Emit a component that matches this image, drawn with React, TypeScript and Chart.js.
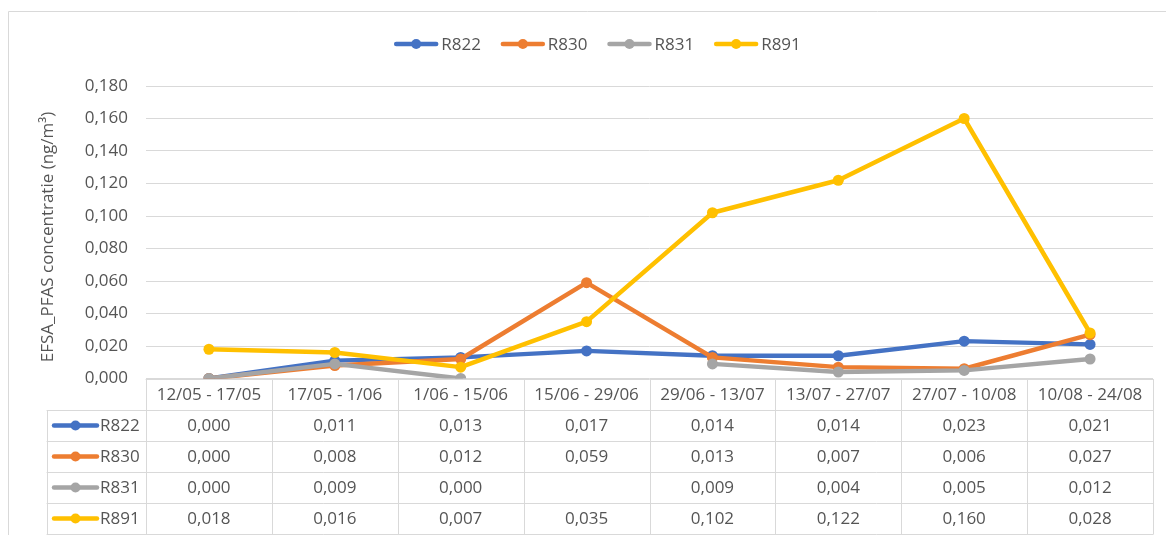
import React, { useEffect, useRef } from "react";
import { Chart, registerables } from "chart.js";

Chart.register(...registerables);

const categories = [
  "12/05 - 17/05",
  "17/05 - 1/06",
  "1/06 - 15/06",
  "15/06 - 29/06",
  "29/06 - 13/07",
  "13/07 - 27/07",
  "27/07 - 10/08",
  "10/08 - 24/08",
];

const seriesNames = ["R822", "R830", "R831", "R891"];
const r822 = [0.0, 0.011, 0.013, 0.017, 0.014, 0.014, 0.023, 0.021];
const r830 = [0.0, 0.008, 0.012, 0.059, 0.013, 0.007, 0.006, 0.027];
const r831 = [0.0, 0.009, 0.0, null, 0.009, 0.004, 0.005, 0.012];
const r891 = [0.018, 0.016, 0.007, 0.035, 0.102, 0.122, 0.16, 0.028];
const seriesValues = [r822, r830, r831, r891];
const seriesColors = ["#4472C4", "#ED7D31", "#A5A5A5", "#FFC000"];

const yMin = 0;
const yMax = 0.18;
const yStep = 0.02;
const yTitle = "EFSA_PFAS concentratie (ng/m³)";

const FONT = '"Open Sans", "Liberation Sans", sans-serif';
const TEXT = "#555555";
const GRID = "#D9D9D9";

const fmt = (v: number | null) =>
  v === null || v === undefined ? "" : v.toFixed(3).replace(".", ",");

const overlayPlugin = {
  id: "overlay",
  afterDraw(chart: any) {
    const ctx: CanvasRenderingContext2D = chart.ctx;
    const area = chart.chartArea;
    const n = categories.length;
    const colW = (area.right - area.left) / n;
    ctx.save();

    // outer frame
    ctx.strokeStyle = GRID;
    ctx.lineWidth = 1;
    ctx.beginPath();
    ctx.moveTo(8.5, 540);
    ctx.lineTo(8.5, 11.5);
    ctx.lineTo(1170, 11.5);
    ctx.stroke();

    // legend
    ctx.font = `17px ${FONT}`;
    ctx.textBaseline = "middle";
    ctx.textAlign = "left";
    const sampleW = 44;
    const gapText = 3;
    const gapItem = 20;
    const widths = seriesNames.map((s) => sampleW + gapText + ctx.measureText(s).width);
    const total = widths.reduce((a, b) => a + b, 0) + gapItem * (widths.length - 1);
    let lx = 597.5 - total / 2;
    const ly = 44;
    seriesNames.forEach((s, i) => {
      ctx.strokeStyle = seriesColors[i];
      ctx.fillStyle = seriesColors[i];
      ctx.lineWidth = 4.5;
      ctx.lineCap = "round";
      ctx.beginPath();
      ctx.moveTo(lx + 2, ly);
      ctx.lineTo(lx + sampleW - 2, ly);
      ctx.stroke();
      ctx.beginPath();
      ctx.arc(lx + sampleW / 2, ly, 5, 0, Math.PI * 2);
      ctx.fill();
      ctx.fillStyle = TEXT;
      ctx.fillText(s, lx + sampleW + gapText, ly + 1);
      lx += widths[i] + gapItem;
    });

    // y title
    ctx.save();
    ctx.translate(48, 237);
    ctx.rotate(-Math.PI / 2);
    ctx.textAlign = "center";
    ctx.textBaseline = "middle";
    ctx.fillStyle = TEXT;
    ctx.font = `17px ${FONT}`;
    ctx.fillText(yTitle, 0, 0);
    ctx.restore();

    // data table
    const top = area.bottom;
    const headerH = 31.5;
    const rowH = 31;
    const tableLeft = 47;
    const bottom = top + headerH + rowH * seriesNames.length;
    ctx.strokeStyle = GRID;
    ctx.lineWidth = 1;
    ctx.beginPath();
    const hy = (y: number) => Math.round(y) + 0.5;
    ctx.moveTo(area.left, hy(top));
    ctx.lineTo(area.right, hy(top));
    for (let r = 0; r <= seriesNames.length; r++) {
      const y = hy(top + headerH + r * rowH);
      ctx.moveTo(tableLeft, y);
      ctx.lineTo(area.right, y);
    }
    for (let c = 0; c <= n; c++) {
      const x = Math.round(area.left + c * colW) + 0.5;
      ctx.moveTo(x, hy(top));
      ctx.lineTo(x, bottom);
    }
    ctx.moveTo(tableLeft + 0.5, hy(top + headerH));
    ctx.lineTo(tableLeft + 0.5, bottom);
    ctx.stroke();

    ctx.fillStyle = TEXT;
    ctx.font = `17px ${FONT}`;
    ctx.textAlign = "center";
    ctx.textBaseline = "middle";
    categories.forEach((c, i) => {
      ctx.fillText(c, area.left + colW * (i + 0.5), top + headerH / 2 + 1);
    });
    seriesNames.forEach((s, r) => {
      const cy = top + headerH + rowH * (r + 0.5) + 1;
      ctx.strokeStyle = seriesColors[r];
      ctx.fillStyle = seriesColors[r];
      ctx.lineWidth = 4.5;
      ctx.lineCap = "round";
      ctx.beginPath();
      ctx.moveTo(54, cy - 1);
      ctx.lineTo(97, cy - 1);
      ctx.stroke();
      ctx.beginPath();
      ctx.arc(75.5, cy - 1, 5, 0, Math.PI * 2);
      ctx.fill();
      ctx.fillStyle = TEXT;
      ctx.textAlign = "left";
      ctx.fillText(s, 100, cy);
      ctx.textAlign = "center";
      seriesValues[r].forEach((v, i) => {
        ctx.fillText(fmt(v as any), area.left + colW * (i + 0.5), cy);
      });
    });

    ctx.restore();
  },
};

export default function App() {
  const ref = useRef<HTMLCanvasElement | null>(null);
  useEffect(() => {
    document.body.style.margin = "0";
    const canvas = ref.current!;
    const chart = new Chart(canvas, {
      type: "line",
      data: {
        labels: categories,
        datasets: seriesNames.map((name, i) => ({
          label: name,
          data: seriesValues[i] as any,
          borderColor: seriesColors[i],
          backgroundColor: seriesColors[i],
          borderWidth: 4.5,
          pointRadius: 5.5,
          pointBorderWidth: 0,
          pointBackgroundColor: seriesColors[i],
          borderJoinStyle: "round",
          borderCapStyle: "round",
          spanGaps: false,
          tension: 0,
          order: seriesNames.length - i,
        })),
      },
      options: {
        responsive: false,
        animation: false,
        devicePixelRatio: 1,
        layout: { padding: { left: 0, right: 13, top: 86, bottom: 156.5 } },
        plugins: {
          legend: { display: false },
          tooltip: { enabled: false },
        },
        scales: {
          x: {
            type: "category",
            offset: true,
            display: false,
            grid: { display: false },
          },
          y: {
            min: yMin,
            max: yMax,
            afterFit: (scale: any) => {
              scale.width = 146;
            },
            border: { display: false },
            grid: { color: GRID, lineWidth: 1, drawTicks: false },
            ticks: {
              stepSize: yStep,
              padding: 18,
              color: TEXT,
              font: { family: FONT, size: 17 },
              callback: (v: any) => fmt(Math.round(Number(v) * 1000) / 1000),
            },
          },
        },
      },
      plugins: [overlayPlugin],
    } as any);
    return () => chart.destroy();
  }, []);
  return (
    <div style={{ width: 1166, height: 535, background: "#fff" }}>
      <canvas ref={ref} width={1166} height={535} style={{ display: "block" }} />
    </div>
  );
}
